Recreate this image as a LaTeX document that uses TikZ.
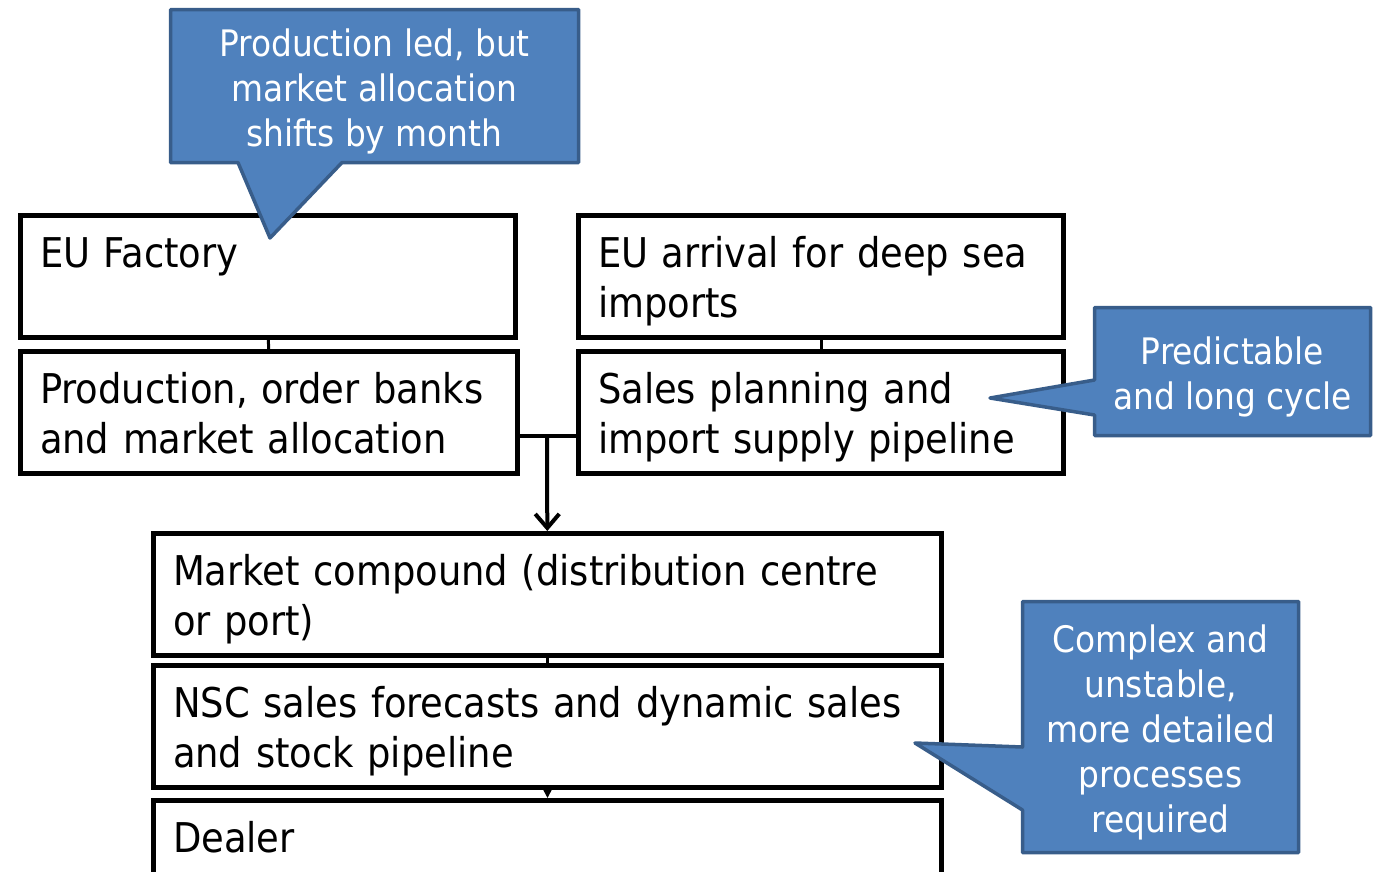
\documentclass[tikz,border=0pt]{standalone}
\usepackage{fontspec}
\setmainfont{DejaVu Sans Condensed}
\usetikzlibrary{arrows.meta}

\definecolor{noteblue}{HTML}{4F81BD}
\definecolor{noteedge}{HTML}{385D8A}

\tikzset{
  stage/.style={draw, line width=5pt, fill=white, minimum height=122pt,
    inner xsep=19.5pt, inner ysep=0pt, align=left,
    font=\fontsize{41}{50}\selectfont,
    execute at begin node={\rule{0pt}{43pt}},
    execute at end node={\rule[-12pt]{0pt}{12pt}}},
  link/.style={line width=4pt},
  note/.style={text=white, align=center, yshift=-5pt, font=\fontsize{36.5}{45}\selectfont},
  bubble/.style={fill=noteblue, draw=noteedge, line width=3.5pt, line join=round},
}

\begin{document}
\begin{tikzpicture}[x=1pt,y=-1pt]
\path [use as bounding box, clip] (0,0) rectangle (1376,871);

% supply chain stages
\node (fac) at (268,276.5) [stage, text width=456pt] {EU Factory\\};
\node (prod) at (269,412.5) [stage, text width=458pt] {Production, order banks\\and market allocation};
\node (arr) at (821,276.5) [stage, text width=446pt] {EU arrival for deep sea\\imports};
\node (plan) at (821,412.5) [stage, text width=446pt] {Sales planning and\\import supply pipeline};
\node (comp) at (547.5,594.5) [stage, text width=749pt] {Market compound (distribution centre\\or port)};
\node (nsc) at (547.5,726.5) [stage, text width=749pt] {NSC sales forecasts and dynamic sales\\and stock pipeline};
\node (dealer) at (547.5,861.5) [stage, text width=749pt] {Dealer\\};

\draw [line width=3pt] (fac) -- (prod);
\draw [line width=3pt] (arr) -- (plan);
\draw [line width=3pt] (comp) -- (nsc);
\draw [line width=2pt, -{Triangle[length=10pt,width=10pt]}] (nsc) -- (dealer);

% both streams join into the market compound
\coordinate (split) at (547,436);
\draw [link] (split -| prod.east) -- (split -| plan.west);
\draw [link, -{Straight Barb[length=14pt,width=24pt]}] (split) -- (comp);

% callouts
\coordinate (tipA) at (270,238);
\draw [bubble] (170.5,9.5) -- (578.5,9.5) -- (578.5,162.5) -- (342,162.5) -- (tipA) -- (238,162.5) -- (170.5,162.5) -- cycle;
\node (noteA) at (374.5,86) [note] {Production led, but\\market allocation\\shifts by month};

\coordinate (tipB) at (990,398);
\draw [bubble] (1094.5,307.5) -- (1370.5,307.5) -- (1370.5,435.5) -- (1094.5,435.5) -- (1094.5,415) -- (tipB) -- (1094.5,380) -- cycle;
\node (noteB) at (1232.5,371.5) [note] {Predictable\\and long cycle};

\coordinate (tipC) at (915,743);
\draw [bubble] (1022.5,601.5) -- (1298.5,601.5) -- (1298.5,852.5) -- (1022.5,852.5) -- (1022.5,810) -- (tipC) -- (1022.5,747) -- cycle;
\node (noteC) at (1160.5,727) [note] {Complex and\\unstable,\\more detailed\\processes\\required};
\end{tikzpicture}
\end{document}
